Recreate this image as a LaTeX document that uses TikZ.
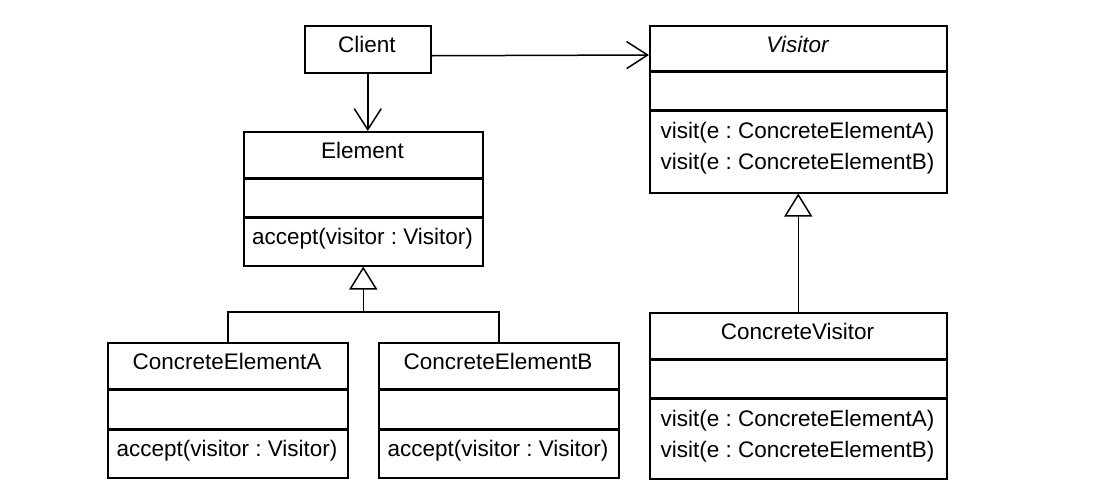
\documentclass[tikz,border=0pt]{standalone}
\usepackage{fontspec}
\setmainfont{Liberation Sans}
\usetikzlibrary{arrows.meta}
\frenchspacing
\begin{document}
\begin{tikzpicture}[x=1pt,y=-1pt,
  classbox/.style={draw, line width=1.5pt, inner sep=0pt, anchor=north west, fill=white},
  sepline/.style={line width=3pt},
  lbl/.style={font=\fontsize{22.5pt}{27pt}\selectfont, inner sep=0pt, anchor=base},
  assoc/.style={line width=1.5pt, -{Straight Barb[length=21pt, width=27pt]}},
  gen/.style={line width=1.5pt, -{Triangle[open, length=23pt, width=28pt, fill=white]}}
]
\useasboundingbox[fill=white] (0,0) rectangle (1104,488);

% Client
\node[classbox, minimum width=126pt, minimum height=47pt] (Client) at (304,25) {};
\node[lbl] (ClientT) at (367,52) {Client};

% Visitor
\node[classbox, minimum width=297pt, minimum height=167pt] (Visitor) at (649,25) {};
\draw[sepline] (Visitor.west |- 0,71) -- (Visitor.east |- 0,71);
\draw[sepline] (Visitor.west |- 0,110) -- (Visitor.east |- 0,110);
\node[lbl, font=\fontsize{22.5pt}{27pt}\selectfont\itshape] (VisitorT) at (797.5,52) {Visitor};
\node[lbl] (VisitorM1) at (797.5,138) {visit(e : ConcreteElementA)};
\node[lbl] (VisitorM2) at (797.5,169) {visit(e : ConcreteElementB)};

% Element
\node[classbox, minimum width=239pt, minimum height=134pt] (Element) at (243,131) {};
\draw[sepline] (Element.west |- 0,178) -- (Element.east |- 0,178);
\draw[sepline] (Element.west |- 0,217) -- (Element.east |- 0,217);
\node[lbl] (ElementT) at (362.5,158) {Element};
\node[lbl] (ElementM) at (362.5,244) {accept(visitor : Visitor)};

% ConcreteElementA
\node[classbox, minimum width=240pt, minimum height=135pt] (CEA) at (107,342) {};
\draw[sepline] (CEA.west |- 0,389) -- (CEA.east |- 0,389);
\draw[sepline] (CEA.west |- 0,429) -- (CEA.east |- 0,429);
\node[lbl] (CEAT) at (227,369) {ConcreteElementA};
\node[lbl] (CEAM) at (227,456) {accept(visitor : Visitor)};

% ConcreteElementB
\node[classbox, minimum width=240pt, minimum height=135pt] (CEB) at (378,342) {};
\draw[sepline] (CEB.west |- 0,389) -- (CEB.east |- 0,389);
\draw[sepline] (CEB.west |- 0,429) -- (CEB.east |- 0,429);
\node[lbl] (CEBT) at (498,369) {ConcreteElementB};
\node[lbl] (CEBM) at (498,456) {accept(visitor : Visitor)};

% ConcreteVisitor
\node[classbox, minimum width=297pt, minimum height=166pt] (CV) at (649,312) {};
\draw[sepline] (CV.west |- 0,359) -- (CV.east |- 0,359);
\draw[sepline] (CV.west |- 0,398) -- (CV.east |- 0,398);
\node[lbl] (CVT) at (797.5,339) {ConcreteVisitor};
\node[lbl] (CVM1) at (797.5,426) {visit(e : ConcreteElementA)};
\node[lbl] (CVM2) at (797.5,457) {visit(e : ConcreteElementB)};

% connectors
\draw[assoc] ([yshift=-6.5pt]Client.east) -- ([yshift=-30pt]Visitor.north west);
\draw[assoc] (Client.south) -- (Client.south |- Element.north);
\coordinate (bar) at (363,312);
\draw[line width=1.5pt] (CEA.north) |- (CEB.north |- bar) -- (CEB.north);
\draw[gen] (Element.south |- bar) -- (Element.south);
\draw[gen] (CV.north) -- (Visitor.south);
\end{tikzpicture}
\end{document}
